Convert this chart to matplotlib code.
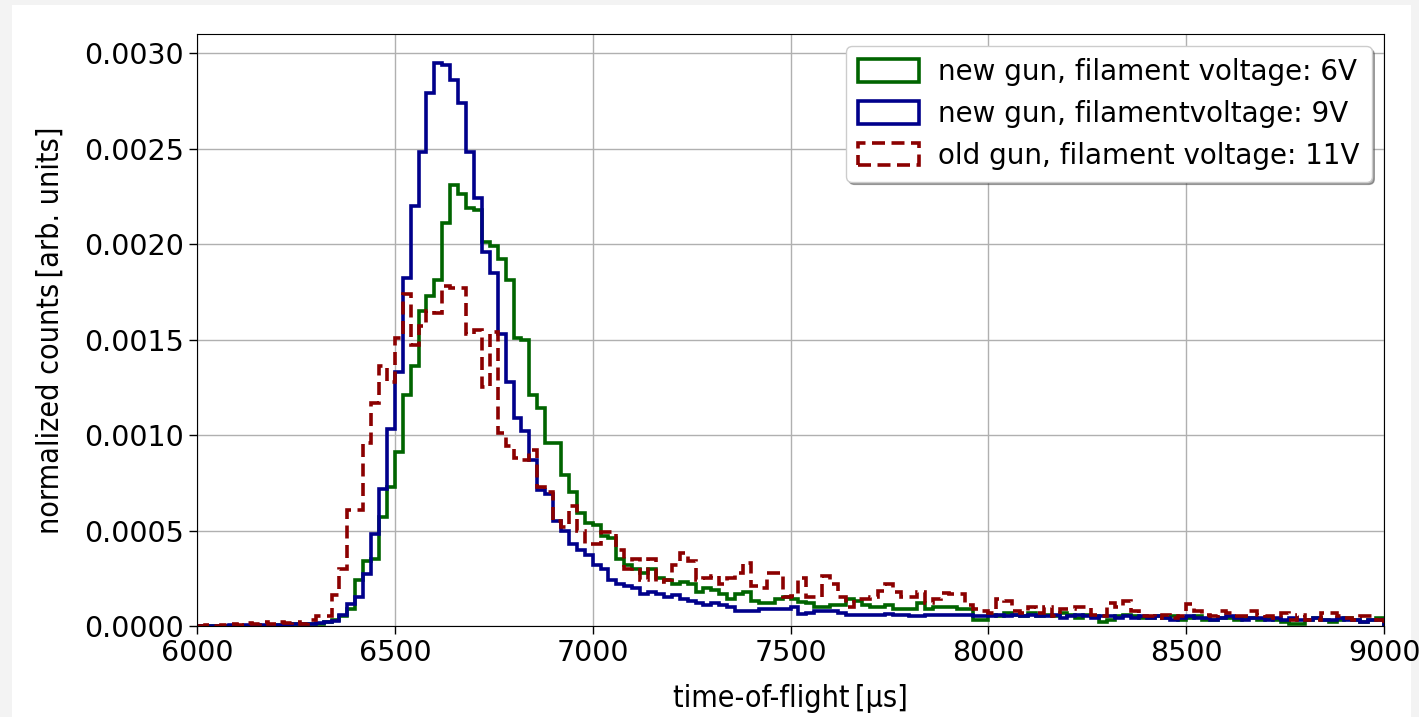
import numpy as np
import matplotlib
matplotlib.use("Agg")
import matplotlib.pyplot as plt
from matplotlib.ticker import MultipleLocator, FormatStrFormatter
from matplotlib.patches import Rectangle

# bin edges of the time-of-flight histograms (µs)
bin_edges = np.arange(6000, 9001, 20)

labels = ["new gun, filament voltage: 6V",
          "new gun, filamentvoltage: 9V",
          "old gun, filament voltage: 11V"]

# normalized counts per bin
counts_6V = [
    0, 0, 0, 0, 0, 0, 0, 0.000003, 0, 0.000003,
    0.000005, 0.000005, 0.000008, 0.00001, 0.00001, 0.000012, 0.00002, 0.00003, 0.00005, 0.00009,
    0.00024, 0.00034, 0.00035, 0.00057, 0.00073, 0.00091, 0.00121, 0.00136, 0.00165, 0.00173,
    0.00181, 0.00211, 0.00231, 0.00226, 0.00219, 0.00218, 0.00201, 0.00199, 0.00192, 0.00181,
    0.00151, 0.00150, 0.00121, 0.00114, 0.00096, 0.00096, 0.00079, 0.00070, 0.00059, 0.00054,
    0.00053, 0.00047, 0.00046, 0.00035, 0.00032, 0.00030, 0.00028, 0.00030, 0.00025, 0.00024,
    0.00022, 0.00023, 0.00022, 0.00018, 0.00020, 0.00019, 0.00017, 0.00014, 0.00017, 0.00018,
    0.00013, 0.00012, 0.00012, 0.00014, 0.00015, 0.00014, 0.000125, 0.00012, 0.00010, 0.00010,
    0.00011, 0.00011, 0.00014, 0.00013, 0.00011, 0.00010, 0.00010, 0.00011, 0.00009, 0.00009,
    0.00009, 0.00012, 0.00009, 0.00010, 0.00010, 0.00010, 0.00009, 0.00009, 0.00003, 0.00003,
    0.00006, 0.00005, 0.00007, 0.00006, 0.00005, 0.00007, 0.00005, 0.00006, 0.00005, 0.00007,
    0.00006, 0.00004, 0.00006, 0.00005, 0.00002, 0.00003, 0.00005, 0.00006, 0.00005, 0.00004,
    0.00004, 0.00005, 0.00004, 0.00005, 0.00003, 0.00004, 0.00005, 0.00003, 0.00003, 0.00004,
    0.00004, 0.00003, 0.00004, 0.00004, 0.00003, 0.00004, 0.00003, 0.00002, 0.00001, 0.00001,
    0.00003, 0.00004, 0.00003, 0.00002, 0.00003, 0.00004, 0.00003, 0.00002, 0.00003, 0.00004,
]

counts_9V = [
    0, 0, 0, 0, 0.000003, 0, 0.000003, 0, 0.000005, 0.000003,
    0.000005, 0.000005, 0.000008, 0.000008, 0.000012, 0.000015, 0.00002, 0.000026, 0.00006, 0.000117,
    0.00015, 0.00027, 0.00048, 0.00072, 0.00103, 0.00133, 0.00182, 0.00220, 0.00248, 0.00279,
    0.00295, 0.00294, 0.00286, 0.00274, 0.00248, 0.00224, 0.00196, 0.00185, 0.00153, 0.00128,
    0.00109, 0.00102, 0.00087, 0.00071, 0.00069, 0.00055, 0.00050, 0.00043, 0.00040, 0.00037,
    0.00032, 0.00030, 0.00024, 0.00022, 0.00021, 0.00020, 0.00017, 0.00018, 0.00017, 0.00015,
    0.00016, 0.00014, 0.00013, 0.00012, 0.00011, 0.00012, 0.00011, 0.00010, 0.00008, 0.00008,
    0.00008, 0.00009, 0.00009, 0.00009, 0.00009, 0.00010, 0.000065, 0.00007, 0.00008, 0.00008,
    0.00008, 0.00007, 0.000055, 0.000055, 0.000055, 0.00006, 0.00006, 0.000065, 0.000055, 0.000055,
    0.00005, 0.00005, 0.000055, 0.00006, 0.00006, 0.00006, 0.00006, 0.00006, 0.00005, 0.00005,
    0.00005, 0.00006, 0.00005, 0.00006, 0.00005, 0.00006, 0.00005, 0.00005, 0.00006, 0.00004,
    0.00005, 0.00006, 0.00005, 0.00004, 0.00005, 0.00005, 0.00004, 0.00005, 0.00004, 0.00005,
    0.00004, 0.00005, 0.00004, 0.00003, 0.00004, 0.00005, 0.00004, 0.00004, 0.00003, 0.00004,
    0.00005, 0.00004, 0.00003, 0.00004, 0.00004, 0.00003, 0.00004, 0.00003, 0.00004, 0.00003,
    0.00003, 0.00004, 0.00003, 0.00003, 0.00004, 0.00003, 0.00003, 0.00002, 0.00003, 0.00003,
]

counts_11V = [
    0, 0.000005, 0, 0.000005, 0.00001, 0.000005, 0.000015, 0.00001, 0.00002, 0.00001,
    0.00002, 0.000015, 0.00002, 0.00001, 0.00003, 0.00005, 0.00005, 0.00016, 0.00030, 0.00061,
    0.00061, 0.00096, 0.00117, 0.00136, 0.00128, 0.00151, 0.00174, 0.00147, 0.00157, 0.00165,
    0.00164, 0.00178, 0.00177, 0.00177, 0.00153, 0.00155, 0.00125, 0.00154, 0.00101, 0.00094,
    0.00088, 0.00087, 0.00092, 0.00073, 0.00070, 0.00055, 0.00052, 0.00063, 0.00050, 0.00043,
    0.00043, 0.00049, 0.00049, 0.00040, 0.00030, 0.00035, 0.00024, 0.00035, 0.00023, 0.00024,
    0.00032, 0.00038, 0.00034, 0.00024, 0.00025, 0.00026, 0.00022, 0.00025, 0.00028, 0.00033,
    0.00021, 0.00020, 0.00028, 0.00028, 0.00015, 0.000155, 0.00025, 0.00015, 0.00015, 0.00026,
    0.00022, 0.00015, 0.00010, 0.00014, 0.00014, 0.00015, 0.000185, 0.00022, 0.00018, 0.00015,
    0.00015, 0.00018, 0.00012, 0.00014, 0.000175, 0.00017, 0.000167, 0.00011, 0.00009, 0.00008,
    0.00007, 0.00014, 0.00013, 0.00008, 0.00007, 0.00010, 0.00007, 0.00010, 0.00005, 0.00009,
    0.00009, 0.00010, 0.00010, 0.00006, 0.00005, 0.00012, 0.00010, 0.00013, 0.00008, 0.00005,
    0.00005, 0.00004, 0.00006, 0.00004, 0.00005, 0.000115, 0.00008, 0.00006, 0.00005, 0.00008,
    0.00007, 0.00005, 0.00005, 0.00008, 0.00006, 0.00005, 0.00004, 0.00007, 0.00003, 0.00006,
    0.00003, 0.00003, 0.00007, 0.00007, 0.00005, 0.00004, 0.00003, 0.00005, 0.00005, 0.00003,
]

FS = 20.5
LFS = 21.8

fig = plt.figure(figsize=(14.19, 7.17), dpi=100, facecolor="#f3f3f3")
fig.patches.append(Rectangle((12 / 1419, 0), 1399 / 1419, 712 / 717,
                             transform=fig.transFigure, facecolor="white",
                             edgecolor="none", zorder=-10))
ax = fig.add_axes([197 / 1419, 1 - 626 / 717, (1384 - 197) / 1419, (626 - 34) / 717])

centers = bin_edges[:-1] + 10
LW = 2.6
ax.hist(centers, bins=bin_edges, weights=counts_6V, histtype="step",
        color="darkgreen", linewidth=LW, label=labels[0])
ax.hist(centers, bins=bin_edges, weights=counts_9V, histtype="step",
        color="darkblue", linewidth=LW, label=labels[1])
ax.hist(centers, bins=bin_edges, weights=counts_11V, histtype="step",
        color="darkred", linewidth=LW, linestyle=(0, (3.6, 1.8)), label=labels[2])

ax.set_xlim(6000, 9000)
ax.set_ylim(0, 0.0031)
ax.yaxis.set_major_locator(MultipleLocator(0.0005))
ax.yaxis.set_major_formatter(FormatStrFormatter("%.4f"))
ax.xaxis.set_major_locator(MultipleLocator(500))
ax.grid(True, color="#b0b0b0", linewidth=1.0)
ax.set_axisbelow(True)
ax.tick_params(labelsize=FS, length=6, width=1)

ax.set_xlabel("time-of-flight\u2009[µs]", fontsize=LFS, fontstretch="condensed", labelpad=12)
ax.set_ylabel("normalized counts\u2009[arb. units]", fontsize=LFS, fontstretch="condensed",
              labelpad=14)

leg = ax.legend(loc="upper right", fontsize=20, shadow=True, fancybox=True,
                framealpha=1, handlelength=2.2, handleheight=0.85, handletextpad=0.7,
                borderpad=0.42, labelspacing=0.5, borderaxespad=0.45)

fig.savefig("out.png", dpi=100, facecolor=fig.get_facecolor())
